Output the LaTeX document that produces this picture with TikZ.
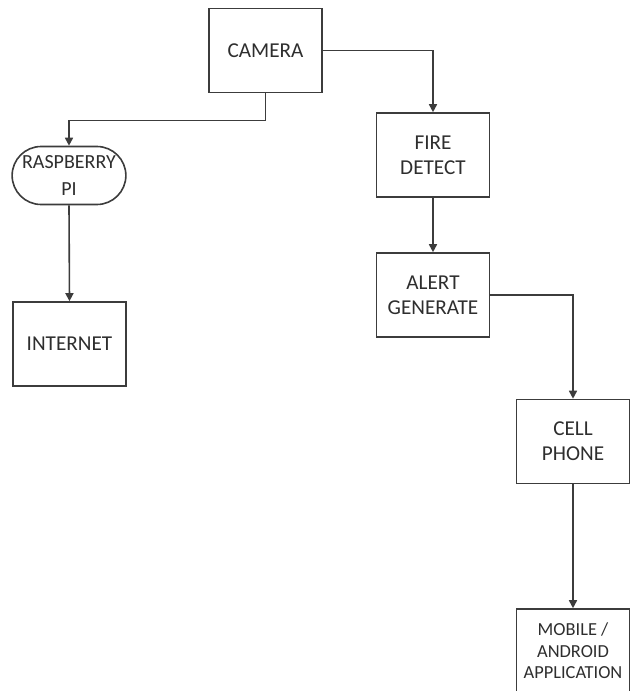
\documentclass[tikz,border=0pt]{standalone}
\usepackage{fontspec}
\setmainfont{Carlito}
\usepackage{xcolor}
\usepackage{tikz}
\usetikzlibrary{arrows.meta,shapes.misc}
\usetikzlibrary{positioning}

\definecolor{lineGray}{HTML}{3C3C3C}
\definecolor{textGray}{HTML}{2E2E2E}

\begin{document}
\begin{tikzpicture}[x=0.5pt, y=-0.5pt]
\tikzset{BoxStyle/.style = {shape=rectangle, draw=lineGray, line width=0.8pt, minimum width=56.5pt, minimum height=42pt, inner sep=1pt, align=center, text=textGray, font=\fontsize{10.6}{12.5}\selectfont}}
\tikzset{PillStyle/.style = {BoxStyle, shape=rounded rectangle, minimum width=55pt, minimum height=29pt, font=\fontsize{10}{13.5}\selectfont}}
\tikzset{EdgeStyle/.style = {-{Triangle[length=4pt, width=4pt]}, draw=lineGray, line width=0.8pt}}
	\clip (0,0) rectangle (634,691);
	\node[BoxStyle] (camera) at (265.5,50.5) {CAMERA};
	\node[PillStyle] (rpi) at (69,175.5) {RASPBERRY\\PI};
	\node[BoxStyle] (internet) at (69.5,344) {INTERNET};
	\node[BoxStyle] (fire) at (433,155) {FIRE\\DETECT};
	\node[BoxStyle] (alert) at (433,295) {ALERT\\GENERATE};
	\node[BoxStyle] (cell) at (573,441.5) {CELL\\PHONE};
	\node[BoxStyle, font=\fontsize{9.2}{10.8}\selectfont] (mobile) at (573,651) {MOBILE /\\ANDROID\\APPLICATION};

	\draw[EdgeStyle] (camera.south) -- ++(0,27) -| (rpi.north);
	\draw[EdgeStyle] (rpi.south) -- (internet.north);
	\draw[EdgeStyle] (camera.east) -| (fire.north);
	\draw[EdgeStyle] (fire.south) -- (alert.north);
	\draw[EdgeStyle] (alert.east) -| (cell.north);
	\draw[EdgeStyle] (cell.south) -- (mobile.north);
\end{tikzpicture}
\end{document}
